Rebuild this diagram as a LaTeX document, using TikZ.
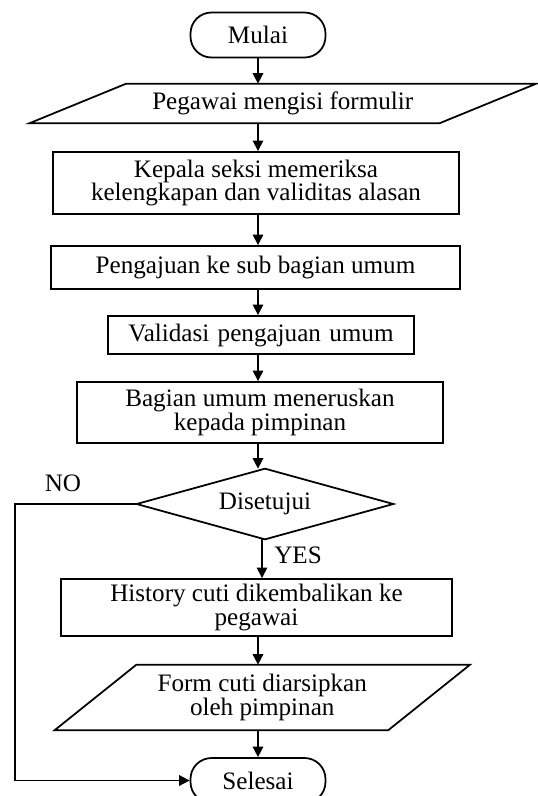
\documentclass[tikz,border=0pt]{standalone}
\usepackage{fontspec}
\setmainfont{Liberation Serif}
\usetikzlibrary{arrows.meta,calc}
\newcommand\myflowfont{\fontsize{14.3}{13.4}\selectfont\setlength{\lineskiplimit}{-20pt}}
\begin{document}
\begin{tikzpicture}[x=0.02cm,y=-0.02cm,
  every node/.style={font=\myflowfont, align=center, inner sep=0pt},
  line/.style={line width=1pt},
  flow/.style={line width=0.9pt,-{Triangle[length=6pt,width=6pt]}},
  term/.style={draw, line width=1pt, rounded corners=0.42cm, minimum width=2.7cm, minimum height=0.9cm},
  proc/.style={draw, line width=1.1pt},
  io/.style={}]
\useasboundingbox (0,0) rectangle (538,796);

\node[term] (mulai) at (258,35) {Mulai};

\node[io, minimum width=8.19cm, minimum height=0.78cm] (p1) at (282.75,103.5) {Pegawai mengisi formulir};
\draw[line] ($(p1.north west)+(48.5,0)$) -- ($(p1.north east)+(48.5,0)$) -- ($(p1.south east)+(-48.5,0)$) -- ($(p1.south west)+(-48.5,0)$) -- cycle;

\node[proc, minimum width=8.12cm, minimum height=1.24cm] (b2) at (256,183) {Kepala seksi memeriksa\\kelengkapan dan validitas alasan};
\node[proc, minimum width=8.18cm, minimum height=0.86cm] (b3) at (255.5,267.5) {Pengajuan ke sub bagian umum};
\node[proc, minimum width=6.12cm, minimum height=0.76cm, text width=6.12cm] (b4) at (261,335) {Validasi pengajuan umum\hspace*{0.2cm}};
\node[proc, minimum width=7.32cm, minimum height=1.22cm] (b5) at (260,412.5) {Bagian umum meneruskan\\kepada pimpinan};

\node[minimum width=5.12cm, minimum height=1.4cm] (dia) at (265,504) {Disetujui};
\draw[line] (dia.north) -- (dia.east) -- (dia.south) -- (dia.west) -- cycle;

\node[proc, minimum width=7.82cm, minimum height=1.14cm] (b6) at (256.5,607.5) {History cuti dikembalikan ke\\pegawai};

\node[io, minimum width=6.66cm, minimum height=1.3cm] (p2) at (262.25,697.5) {Form cuti diarsipkan\\oleh pimpinan};
\draw[line] ($(p2.north west)+(41,0)$) -- ($(p2.north east)+(41,0)$) -- ($(p2.south east)+(-41,0)$) -- ($(p2.south west)+(-41,0)$) -- cycle;

\node[term] (sel) at (258,780.5) {Selesai};

\node (no) at (63,483) {NO};
\node (yes) at (298,555) {YES};
\coordinate (nocorner) at (15,504);

\draw[flow] (mulai.south) -- (mulai.south |- p1.north);
\draw[flow] (mulai.south |- p1.south) -- (mulai.south |- b2.north);
\draw[flow] (mulai.south |- b2.south) -- (mulai.south |- b3.north);
\draw[flow] (mulai.south |- b3.south) -- (mulai.south |- b4.north);
\draw[flow] (mulai.south |- b4.south) -- (mulai.south |- b5.north);
\draw[flow] (mulai.south |- b5.south) -- (mulai.south |- dia.north);
\draw[flow] ($(dia.south)+(-3,0)$) -- ($(dia.south |- b6.north)+(-3,0)$);
\draw[flow] (mulai.south |- b6.south) -- (mulai.south |- p2.north);
\draw[flow] (mulai.south |- p2.south) -- (sel.north);
\draw[flow] (dia.west) -- (nocorner) |- (sel.west);
\end{tikzpicture}
\end{document}
